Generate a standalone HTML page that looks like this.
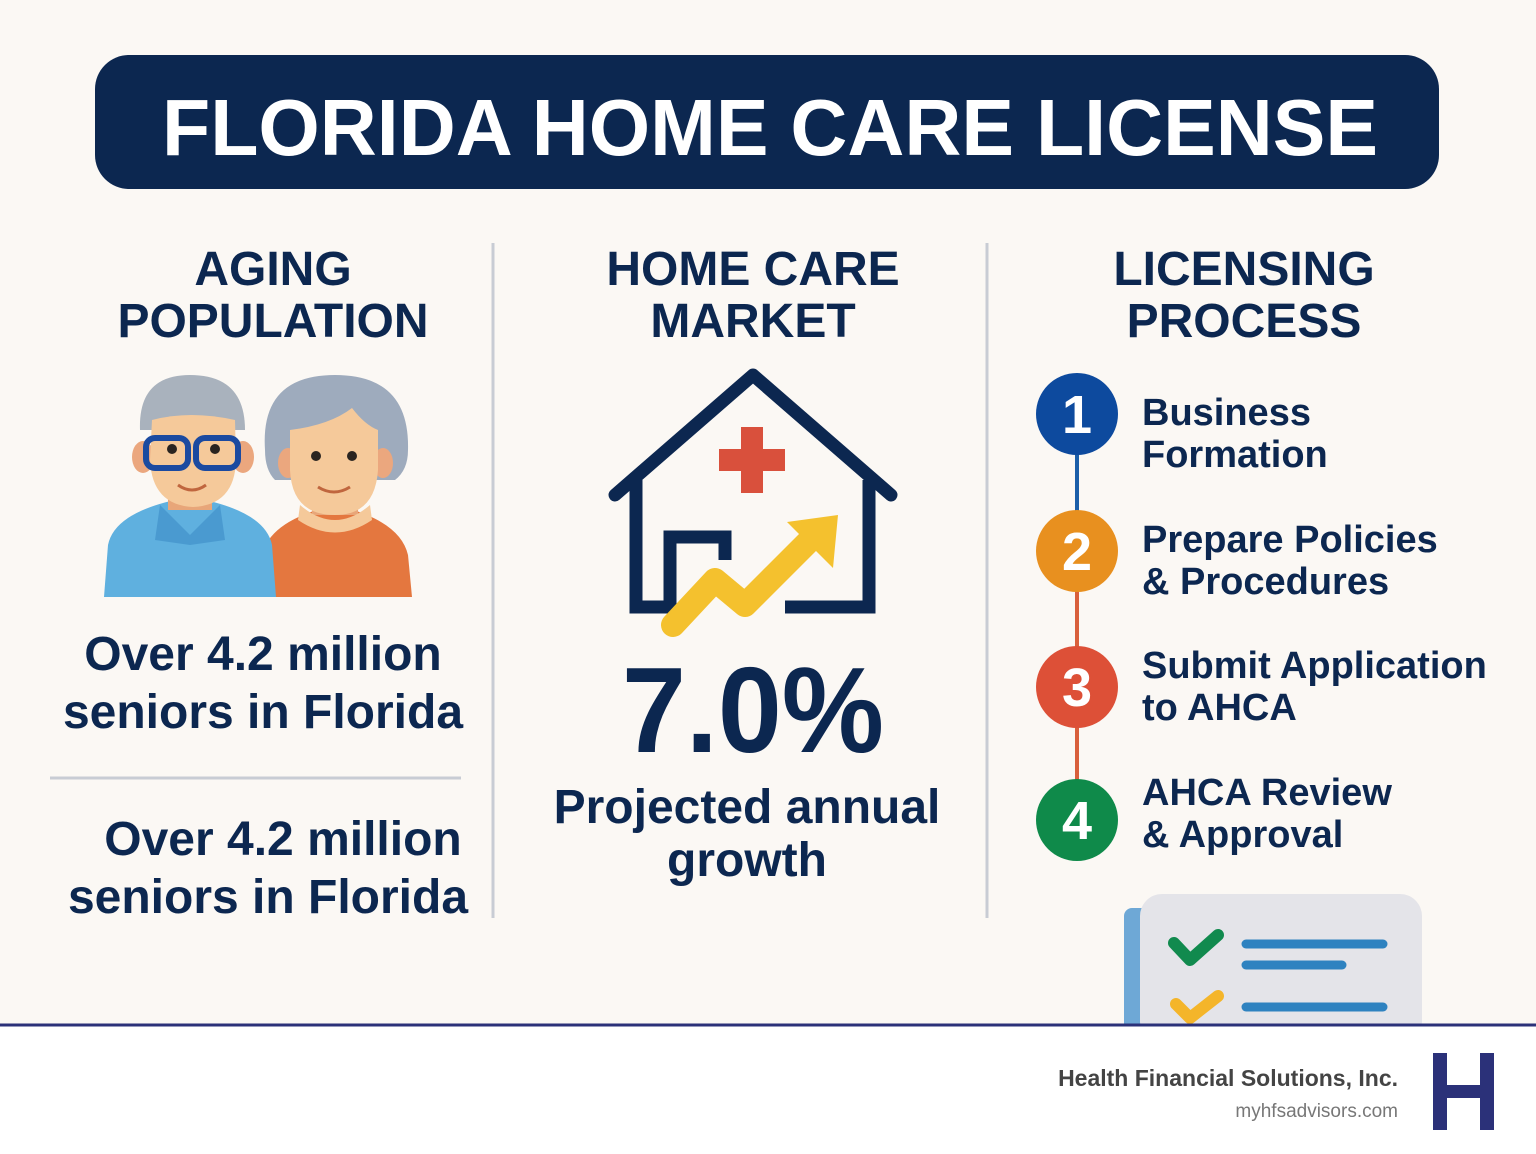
<!DOCTYPE html>
<html><head><meta charset="utf-8"><style>
html,body{margin:0;padding:0;background:#fbf8f4}
svg{display:block}
text{font-family:"Liberation Sans",sans-serif;font-weight:bold}
</style></head><body>
<svg width="1536" height="1154" viewBox="0 0 1536 1154">
<rect width="1536" height="1154" fill="#fbf8f4"/>
<g>
<rect x="95" y="55" width="1344" height="134" rx="34" fill="#0c2750"/>
<text x="770" y="155" text-anchor="middle" font-size="80" fill="#fff" textLength="1216" lengthAdjust="spacingAndGlyphs">FLORIDA HOME CARE LICENSE</text>
</g>
<line x1="493" y1="243" x2="493" y2="918" stroke="#c8ccd4" stroke-width="3"/>
<line x1="987" y1="243" x2="987" y2="918" stroke="#c8ccd4" stroke-width="3"/>
<g fill="#0c2750" font-size="48" text-anchor="middle">
<text x="273" y="285">AGING</text>
<text x="273" y="337">POPULATION</text>
<text x="753" y="285">HOME CARE</text>
<text x="753" y="337">MARKET</text>
<text x="1244" y="285">LICENSING</text>
<text x="1244" y="337">PROCESS</text>
</g>
<g>
<path d="M258 597 L262 555 Q270 520 335 505 Q400 520 408 555 L412 597 Z" fill="#e4773f"/>
<rect x="312" y="470" width="46" height="45" fill="#e8a679"/>
<path d="M300 505 Q335 535 370 505 L372 520 Q335 545 298 520Z" fill="#f5c99a"/>
<path d="M265 450 Q260 375 335 375 Q410 375 408 450 Q408 470 395 480 L275 480 Q265 470 265 450Z" fill="#9eabbd"/>
<ellipse cx="288" cy="463" rx="10" ry="15" fill="#eba77e"/>
<ellipse cx="383" cy="463" rx="10" ry="15" fill="#eba77e"/>
<path d="M290 430 Q330 425 352 408 Q365 425 378 430 L378 470 Q375 515 335 515 Q292 515 290 470Z" fill="#f5c99a"/>
<circle cx="316" cy="456" r="5" fill="#2a2420"/><circle cx="352" cy="456" r="5" fill="#2a2420"/>
<path d="M318 487 Q334 497 350 487" stroke="#c0663e" stroke-width="3" fill="none"/>
<path d="M104 597 L108 545 Q115 510 190 497 Q265 510 272 545 L276 597 Z" fill="#5fb0df"/>
<path d="M160 505 L190 535 L220 505 L225 540 L190 545 L155 540Z" fill="#4a9ad0"/>
<rect x="168" y="470" width="44" height="40" fill="#e8a679"/>
<path d="M140 430 Q138 375 190 375 Q245 375 245 430Z" fill="#a9b2bd"/>
<ellipse cx="143" cy="457" rx="11" ry="16" fill="#eba77e"/>
<ellipse cx="243" cy="457" rx="11" ry="16" fill="#eba77e"/>
<path d="M152 420 Q190 410 235 420 L236 460 Q235 505 193 507 Q152 505 150 460Z" fill="#f5c99a"/>
<rect x="146" y="438" width="42" height="30" rx="9" fill="none" stroke="#1b4aa0" stroke-width="6"/>
<rect x="196" y="438" width="42" height="30" rx="9" fill="none" stroke="#1b4aa0" stroke-width="6"/>
<circle cx="172" cy="449" r="5" fill="#2a2420"/><circle cx="215" cy="449" r="5" fill="#2a2420"/>
<path d="M178 485 Q192 495 206 485" stroke="#c0663e" stroke-width="3" fill="none"/>
</g>
<g fill="#0c2750" font-size="48" text-anchor="middle">
<text x="263" y="670">Over 4.2 million</text>
<text x="263" y="728">seniors in Florida</text>
<text x="283" y="855">Over 4.2 million</text>
<text x="268" y="913">seniors in Florida</text>
</g>
<line x1="50" y1="778" x2="461" y2="778" stroke="#c8ccd4" stroke-width="3"/>
<g>
<path d="M615 495 L753 375 L891 495" fill="none" stroke="#0c2750" stroke-width="13" stroke-linejoin="round" stroke-linecap="round"/>
<path d="M636 480 L636 607 L670 607 L670 537 L725 537 L725 560 M785 607 L869 607 L869 480" fill="none" stroke="#0c2750" stroke-width="13"/>
<rect x="741" y="427" width="22" height="66" fill="#d9503c"/>
<rect x="719" y="449" width="66" height="22" fill="#d9503c"/>
<path d="M673 625 L715 580 L745 605 L810 540" fill="none" stroke="#f4c12e" stroke-width="24" stroke-linejoin="round" stroke-linecap="round"/>
<path d="M787 522 L838 515 L833 568Z" fill="#f4c12e"/>
</g>
<text x="753" y="752" text-anchor="middle" font-size="122" fill="#0c2750" textLength="262" lengthAdjust="spacingAndGlyphs">7.0%</text>
<text x="747" y="823" text-anchor="middle" font-size="48" fill="#0c2750">Projected annual</text>
<text x="747" y="876" text-anchor="middle" font-size="48" fill="#0c2750">growth</text>
<g>
<line x1="1077" y1="414" x2="1077" y2="551" stroke="#1b5ea8" stroke-width="4"/>
<line x1="1077" y1="551" x2="1077" y2="687" stroke="#d9603c" stroke-width="4"/>
<line x1="1077" y1="687" x2="1077" y2="820" stroke="#d9603c" stroke-width="4"/>
<circle cx="1077" cy="414" r="41" fill="#0d4a9e"/>
<circle cx="1077" cy="551" r="41" fill="#e8901f"/>
<circle cx="1077" cy="687" r="41" fill="#dd5037"/>
<circle cx="1077" cy="820" r="41" fill="#0f8a4a"/>
<g fill="#fff" font-size="54" text-anchor="middle">
<text x="1077" y="433">1</text><text x="1077" y="570">2</text><text x="1077" y="706">3</text><text x="1077" y="839">4</text>
</g>
<g fill="#0c2750" font-size="38">
<text x="1142" y="425">Business</text><text x="1142" y="467">Formation</text>
<text x="1142" y="552">Prepare Policies</text><text x="1142" y="594">&amp; Procedures</text>
<text x="1142" y="678">Submit Application</text><text x="1142" y="720">to AHCA</text>
<text x="1142" y="805">AHCA Review</text><text x="1142" y="847">&amp; Approval</text>
</g>
</g>
<g>
<rect x="1124" y="908" width="40" height="130" rx="8" fill="#6ea8d6"/>
<rect x="1140" y="894" width="282" height="150" rx="22" fill="#e4e4e9"/>
<path d="M1174 943 L1190 960 L1218 935" fill="none" stroke="#118a4e" stroke-width="12" stroke-linecap="round" stroke-linejoin="round"/>
<path d="M1176 1004 L1190 1018 L1218 996" fill="none" stroke="#f4b52a" stroke-width="12" stroke-linecap="round" stroke-linejoin="round"/>
<line x1="1246" y1="944" x2="1383" y2="944" stroke="#2e82c0" stroke-width="9" stroke-linecap="round"/>
<line x1="1246" y1="965" x2="1342" y2="965" stroke="#2e82c0" stroke-width="9" stroke-linecap="round"/>
<line x1="1246" y1="1007" x2="1383" y2="1007" stroke="#2e82c0" stroke-width="9" stroke-linecap="round"/>
</g>
<rect x="0" y="1026" width="1536" height="128" fill="#ffffff"/>
<line x1="0" y1="1025" x2="1536" y2="1025" stroke="#2b3179" stroke-width="3"/>
<text x="1398" y="1086" text-anchor="end" font-size="23" fill="#444">Health Financial Solutions, Inc.</text>
<text x="1398" y="1117" text-anchor="end" font-size="19" fill="#777" style="font-weight:normal">myhfsadvisors.com</text>
<g fill="#2b3179">
<rect x="1433" y="1053" width="14" height="77"/><rect x="1480" y="1053" width="14" height="77"/><rect x="1433" y="1085" width="60" height="13"/>
</g>
</svg>
</body></html>
